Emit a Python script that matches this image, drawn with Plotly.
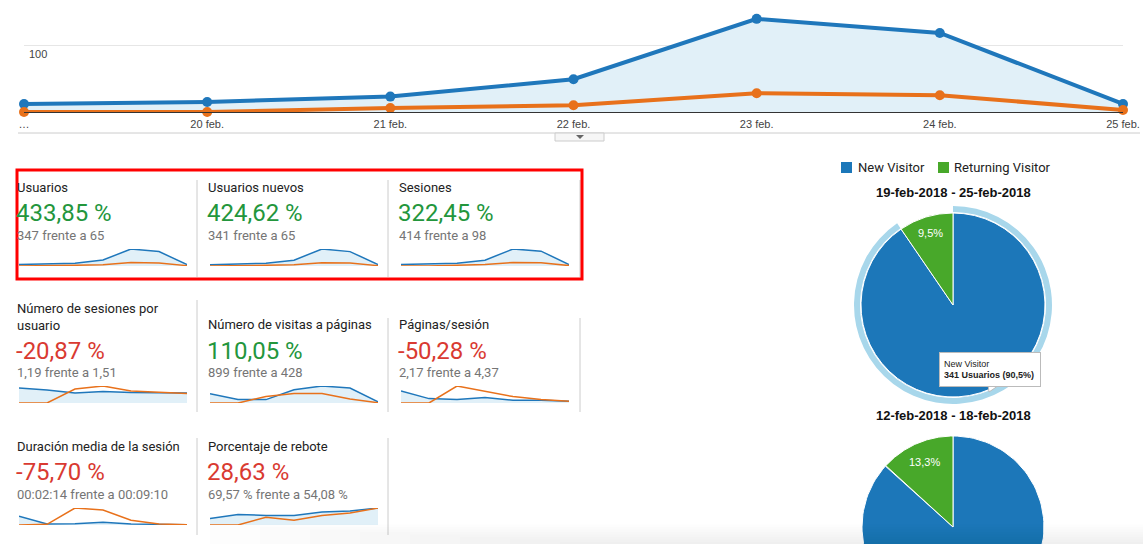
import numpy as np
import plotly.graph_objects as go

W, H = 1143, 544


def px(x):
    return x / W


def py(y):
    return 1 - y / H


# ---------------- data ----------------
date_labels = ['…', '20 feb.', '21 feb.', '22 feb.', '23 feb.', '24 feb.', '25 feb.']
users_current = [12, 15, 23, 49, 139, 118, 12]
users_previous = [0, 0, 6, 10, 28, 25, 3]

new_users_current = [11, 15, 22, 47, 137, 116, 12]
new_users_previous = [0, 0, 6, 10, 27, 24, 3]
sessions_current = [14, 17, 26, 55, 160, 140, 14]
sessions_previous = [0, 0, 8, 14, 33, 30, 4]
sess_per_user_current = [1.5, 1.3, 1.0, 1.15, 1.05, 1.05, 1.0]
sess_per_user_previous = [0, 0, 1.4, 1.7, 1.2, 1.1, 0.95]
pageviews_current = [132, 49, 49, 191, 245, 216, 17]
pageviews_previous = [0, 0, 93, 137, 137, 57, 4]
pages_per_sess_current = [6.0, 2.2, 1.7, 2.7, 1.4, 1.4, 0.9]
pages_per_sess_previous = [0, 0, 8.5, 6.0, 3.2, 1.7, 0.9]
avg_duration_current = [520, 60, 80, 160, 60, 40, 20]
avg_duration_previous = [0, 40, 1000, 880, 280, 60, 20]
bounce_current = [38, 62, 56, 56, 76, 82, 100]
bounce_previous = [0, 0, 46, 28, 56, 70, 100]

tile_titles = ['Usuarios', 'Usuarios nuevos', 'Sesiones',
               'Número de sesiones por<br>usuario', 'Número de visitas a páginas', 'Páginas/sesión',
               'Duración media de la sesión', 'Porcentaje de rebote']
tile_changes = ['433,85 %', '424,62 %', '322,45 %', '-20,87 %', '110,05 %', '-50,28 %', '-75,70 %', '28,63 %']
tile_positive = [True, True, True, False, True, False, False, False]
tile_compare = ['347 frente a 65', '341 frente a 65', '414 frente a 98', '1,19 frente a 1,51',
                '899 frente a 428', '2,17 frente a 4,37', '00:02:14 frente a 00:09:10',
                '69,57 % frente a 54,08 %']

visitor_labels = ['New Visitor', 'Returning Visitor']
visitors_current = [341, 36]
visitors_previous = [65, 10]
pie_text_current = ['', '9,5%']
pie_text_previous = ['', '13,3%']
period_current = '19-feb-2018 - 25-feb-2018'
period_previous = '12-feb-2018 - 18-feb-2018'
tooltip_text = 'New Visitor<br><b>341 Usuarios (90,5%)</b>'

spark_series = [
    (users_current, users_previous),
    (new_users_current, new_users_previous),
    (sessions_current, sessions_previous),
    (sess_per_user_current, sess_per_user_previous),
    (pageviews_current, pageviews_previous),
    (pages_per_sess_current, pages_per_sess_previous),
    (avg_duration_current, avg_duration_previous),
    (bounce_current, bounce_previous),
]

# ---------------- styles ----------------
BLUE = '#1f77bb'
ORANGE = '#e8711b'
FILL = '#e1f0f8'
PIE_BLUE = '#1c77b9'
PIE_GREEN = '#48a82a'
RING = '#a8d7eb'
GREEN_TXT = '#23963c'
RED_TXT = '#d93a31'
ARIAL = 'Liberation Sans, Arial, sans-serif'
ROBOTO = 'Roboto, sans-serif'

fig = go.Figure()
x_idx = list(range(len(date_labels)))

# ---------------- main chart ----------------
fig.add_trace(go.Scatter(x=x_idx, y=users_current, mode='lines+markers', fill='tozeroy',
                         fillcolor=FILL, line=dict(color=BLUE, width=4),
                         marker=dict(color=BLUE, size=10), cliponaxis=False,
                         xaxis='x', yaxis='y', hoverinfo='skip'))
fig.add_trace(go.Scatter(x=x_idx, y=users_previous, mode='lines+markers',
                         line=dict(color=ORANGE, width=4),
                         marker=dict(color=ORANGE, size=10), cliponaxis=False,
                         xaxis='x', yaxis='y', hoverinfo='skip'))

layout_axes = {}
layout_axes['xaxis'] = dict(domain=[px(24), px(1123)], range=[0, 6], tickvals=x_idx,
                            ticktext=date_labels, showgrid=False, zeroline=False,
                            showline=True, linecolor='#333', linewidth=1, ticks='',
                            ticklabelstandoff=2, automargin=False,
                            tickfont=dict(family=ARIAL, size=11, color='#444'),
                            fixedrange=True, anchor='y')
layout_axes['yaxis'] = dict(domain=[py(112), py(5)], range=[0, (112 - 5) / 67 * 100],
                            tickvals=[100], showticklabels=False, showgrid=True, ticks='',
                            gridcolor='#e6e6e6', gridwidth=1, zeroline=False, showline=False,
                            automargin=False, fixedrange=True, anchor='x')

# ---------------- sparklines ----------------
col_x = [(19, 187), (210, 378), (401, 569)]
row_y = [(249, 266), (386, 403), (508, 525)]
for i, (cur, prev) in enumerate(spark_series):
    r, c = divmod(i, 3)
    n = i + 2
    xa, ya = f'x{n}', f'y{n}'
    ymax = max(max(cur), max(prev))
    fig.add_trace(go.Scatter(x=x_idx, y=cur, mode='lines', fill='tozeroy', fillcolor=FILL,
                             line=dict(color=BLUE, width=1.5), xaxis=xa, yaxis=ya,
                             hoverinfo='skip'))
    fig.add_trace(go.Scatter(x=x_idx, y=prev, mode='lines',
                             line=dict(color=ORANGE, width=1.5), xaxis=xa, yaxis=ya,
                             hoverinfo='skip'))
    layout_axes[f'xaxis{n}'] = dict(domain=[px(col_x[c][0]), px(col_x[c][1])], range=[0, 6],
                                    visible=False, automargin=False, fixedrange=True, anchor=ya)
    layout_axes[f'yaxis{n}'] = dict(domain=[py(row_y[r][1]), py(row_y[r][0])], range=[0, ymax],
                                    visible=False, automargin=False, fixedrange=True, anchor=xa)

# ---------------- pie (current period) ----------------
cx, cy, R = 953, 305, 92
Rr = 99
fig.add_trace(go.Pie(values=visitors_current, labels=visitor_labels, sort=False,
                     direction='clockwise', hole=93 / 99,
                     marker=dict(colors=[RING, 'rgba(0,0,0,0)'], line=dict(width=0)),
                     textinfo='none', hoverinfo='skip', showlegend=False,
                     domain=dict(x=[px(cx - Rr), px(cx + Rr)], y=[py(cy + Rr), py(cy - Rr)])))
fig.add_trace(go.Pie(values=visitors_current, labels=visitor_labels, sort=False,
                     direction='clockwise', textinfo='none',
                     marker=dict(colors=[PIE_BLUE, PIE_GREEN], line=dict(color='white', width=1)),
                     hoverinfo='skip', showlegend=False,
                     domain=dict(x=[px(cx - R), px(cx + R)], y=[py(cy + R), py(cy - R)])))
# slice label of the current pie, placed at the slice's mid angle
tot_cur = sum(visitors_current)
mid_cur = (visitors_current[0] + visitors_current[1] / 2) / tot_cur * 2 * np.pi
lab_r = 0.82 * R

# ---------------- pie (previous period, cut off by page bottom) ----------------
cx2, cy2, R2 = 953, 527, 91
total_prev = sum(visitors_previous)
start = 0.0
pie_colors = [PIE_BLUE, PIE_GREEN]
for val, col in zip(visitors_previous, pie_colors):
    frac = val / total_prev
    th = np.linspace(start, start + frac * 2 * np.pi, 120)
    xs = np.concatenate([[0], np.sin(th), [0]])
    ys = np.concatenate([[0], np.cos(th), [0]])
    fig.add_trace(go.Scatter(x=xs, y=ys, mode='lines', fill='toself', fillcolor=col,
                             line=dict(color='white', width=1), xaxis='x10', yaxis='y10',
                             hoverinfo='skip'))
    start += frac * 2 * np.pi
layout_axes['xaxis10'] = dict(domain=[px(cx2 - R2), px(cx2 + R2)], range=[-1.0, 1.0],
                              visible=False, automargin=False, fixedrange=True, anchor='y10')
layout_axes['yaxis10'] = dict(domain=[0, py(cy2 - R2)], range=[1 - (H - (cy2 - R2)) / R2, 1.0],
                              visible=False, automargin=False, fixedrange=True, anchor='x10')

# ---------------- annotations ----------------
ann = []
ann.append(dict(x=px(27), y=100, xref='paper', yref='y', text='100', showarrow=False,
                xanchor='left', yanchor='top', yshift=-1,
                font=dict(family=ARIAL, size=11, color='#444')))

title_y = [187, 324, 446]
big_y = [213, 351, 472]
cmp_y = [235, 372, 494]
tile_x = [15, 206, 397]
for i in range(8):
    r, c = divmod(i, 3)
    ty = title_y[r]
    if '<br>' in tile_titles[i]:
        ty = 316.5
    ann.append(dict(x=px(tile_x[c]), y=py(ty), xref='paper', yref='paper', text=tile_titles[i],
                    showarrow=False, xanchor='left', yanchor='middle', align='left',
                    font=dict(family=ROBOTO, size=13, color='#222')))
    ann.append(dict(x=px(tile_x[c] - 1), y=py(big_y[r]), xref='paper', yref='paper',
                    text=tile_changes[i], showarrow=False, xanchor='left', yanchor='middle',
                    font=dict(family=ROBOTO, size=24,
                              color=GREEN_TXT if tile_positive[i] else RED_TXT)))
    ann.append(dict(x=px(tile_x[c]), y=py(cmp_y[r]), xref='paper', yref='paper',
                    text=tile_compare[i], showarrow=False, xanchor='left', yanchor='middle',
                    font=dict(family=ROBOTO, size=13, color='#757575')))

# legend
ann.append(dict(x=px(856), y=py(167), xref='paper', yref='paper', text=visitor_labels[0],
                showarrow=False, xanchor='left', yanchor='middle',
                font=dict(family=ROBOTO, size=13, color='#222')))
ann.append(dict(x=px(952), y=py(167), xref='paper', yref='paper', text=visitor_labels[1],
                showarrow=False, xanchor='left', yanchor='middle',
                font=dict(family=ROBOTO, size=13, color='#222')))
# pie titles
ann.append(dict(x=px(953), y=py(192), xref='paper', yref='paper', text=f'<b>{period_current}</b>',
                showarrow=False, xanchor='center', yanchor='middle',
                font=dict(family=ARIAL, size=13, color='#111')))
ann.append(dict(x=px(953), y=py(415), xref='paper', yref='paper', text=f'<b>{period_previous}</b>',
                showarrow=False, xanchor='center', yanchor='middle',
                font=dict(family=ARIAL, size=13, color='#111')))
# label of current pie
ann.append(dict(x=px(cx + lab_r * np.sin(mid_cur)), y=py(cy - lab_r * np.cos(mid_cur)),
                xref='paper', yref='paper', text=pie_text_current[1], showarrow=False,
                xanchor='center', yanchor='middle',
                font=dict(family=ARIAL, size=11, color='white')))
# label of previous pie
frac_new = visitors_previous[0] / total_prev
mid = (frac_new + (1 - frac_new) / 2) * 2 * np.pi
ann.append(dict(x=0.78 * np.sin(mid), y=0.78 * np.cos(mid), xref='x10', yref='y10',
                text=pie_text_previous[1], showarrow=False, xanchor='center', yanchor='middle',
                font=dict(family=ARIAL, size=11, color='white')))
# tooltip
ann.append(dict(x=px(939), y=py(352), xref='paper', yref='paper', text=tooltip_text,
                showarrow=False, xanchor='left', yanchor='top', align='left',
                bgcolor='white', bordercolor='#bbbbbb', borderwidth=1, borderpad=4,
                width=92, height=25,
                font=dict(family=ARIAL, size=9, color='#222')))

# ---------------- shapes ----------------
shapes = []


def line(x0, y0, x1, y1, color='#cccccc', width=1):
    shapes.append(dict(type='line', xref='paper', yref='paper', x0=px(x0), y0=py(y0),
                       x1=px(x1), y1=py(y1), line=dict(color=color, width=width)))


# separator under chart + toggle button
line(18, 133, 1140, 133)
shapes.append(dict(type='rect', xref='paper', yref='paper', x0=px(555), x1=px(604),
                   y0=py(133), y1=py(141), fillcolor='#f6f6f6', line=dict(color='#cccccc', width=1)))
shapes.append(dict(type='path', xref='paper', yref='paper',
                   path=f'M {px(576)},{py(135)} L {px(584)},{py(135)} L {px(580)},{py(139)} Z',
                   fillcolor='#666666', line=dict(width=0)))

# tile dividers
for xd in (197, 388, 580):
    line(xd, 180, xd, 277)
line(197, 300, 197, 412)
line(388, 318, 388, 412)
line(580, 318, 580, 412)
line(197, 438, 197, 535)
line(388, 438, 388, 535)

# red highlight box
shapes.append(dict(type='rect', xref='paper', yref='paper', x0=px(17), x1=px(582),
                   y0=py(279), y1=py(170), line=dict(color='#ff0000', width=3)))

# legend squares
shapes.append(dict(type='rect', xref='paper', yref='paper', x0=px(841), x1=px(852),
                   y0=py(173), y1=py(162), fillcolor=PIE_BLUE, line=dict(width=0)))
shapes.append(dict(type='rect', xref='paper', yref='paper', x0=px(938), x1=px(949),
                   y0=py(173), y1=py(162), fillcolor=PIE_GREEN, line=dict(width=0)))

# tooltip pointer
shapes.append(dict(type='path', xref='paper', yref='paper',
                   path=f'M {px(988)},{py(384.5)} L {px(1000)},{py(384.5)} L {px(989)},{py(392)} Z',
                   fillcolor='white', line=dict(color='#bbbbbb', width=1)))

# faint page shadow at the bottom (soft steps)
for k in range(8):
    hgt = 2 + 2.5 * k
    x_start = 560 - 50 * k
    shapes.append(dict(type='rect', xref='paper', yref='paper', x0=px(x_start),
                       x1=1, y0=0, y1=py(H - hgt), fillcolor='rgba(0,0,0,0.008)',
                       line=dict(width=0), layer='above'))

fig.update_layout(template='none', width=W, height=H, margin=dict(l=0, r=0, t=0, b=0, pad=0),
                  autosize=False,
                  paper_bgcolor='white', plot_bgcolor='rgba(0,0,0,0)',
                  showlegend=False, annotations=ann, shapes=shapes, **layout_axes)

fig.write_html('out.html', config={'displayModeBar': False})
